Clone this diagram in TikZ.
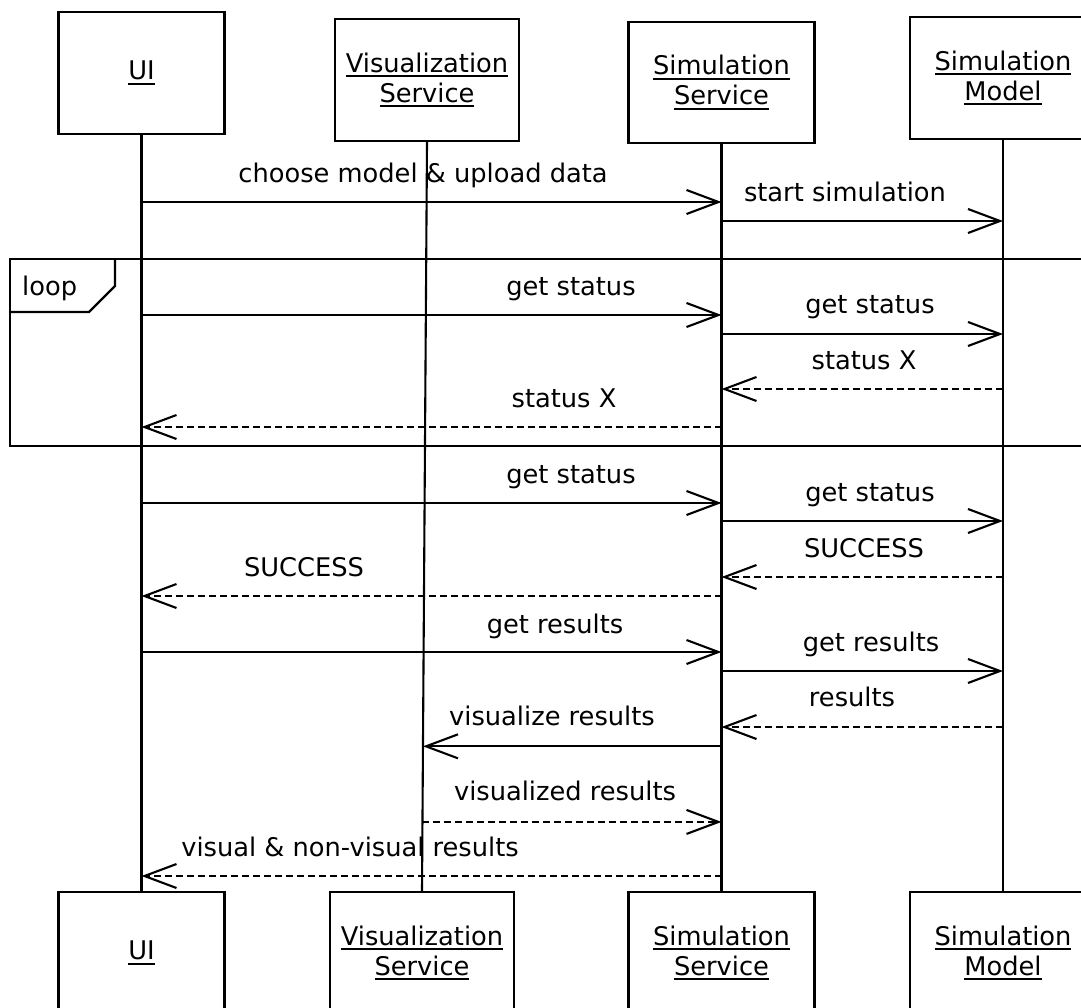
\documentclass[tikz,border=0pt]{standalone}
\usepackage{fontspec}
\setmainfont{DejaVu Sans}
\usetikzlibrary{arrows.meta,calc}

% underline with a fixed, slightly heavier rule
\newcommand{\uln}[1]{{\setbox0\hbox{#1}\rlap{\rule[-5pt]{\wd0}{1.8pt}}\box0}}

\tikzset{
  every node/.style={font=\fontsize{25.7}{30}\selectfont},
  lifebox/.style={draw, line width=2.4pt, minimum width=184pt, minimum height=122pt,
                  align=center, inner sep=0pt, fill=white},
  lifeline/.style={line width=2.1pt},
  callmsg/.style={line width=2.1pt, -{Straight Barb[length=32pt,width=24pt]}},
  replymsg/.style={callmsg, dash pattern=on 7pt off 4pt},
  lbl/.style={anchor=base, inner sep=0pt},
  frame/.style={line width=2.4pt},
}

\begin{document}
\begin{tikzpicture}[x=1pt, y=-1pt]
  \useasboundingbox (0,0) rectangle (1081,1008);
  \clip (0,0) rectangle (1081,1008);

  % participants, top row
  \node[lifebox, minimum width=166pt] (uiT)  at (141.5,73)  {\uln{UI}};
  \node[lifebox] (visT) at (427,80)   {\uln{Visualization}\\\uln{Service}};
  \node[lifebox, minimum width=186pt, minimum height=121pt] (ssT) at (721.5,82.5) {\uln{Simulation}\\\uln{Service}};
  \node[lifebox, minimum width=186pt] (smT)  at (1003,78)   {\uln{Simulation}\\\uln{Model}};

  % participants, bottom row
  \node[lifebox, minimum width=166pt] (uiB)  at (141.5,953) {\uln{UI}};
  \node[lifebox] (visB) at (422,953)  {\uln{Visualization}\\\uln{Service}};
  \node[lifebox, minimum width=186pt] (ssB)  at (721.5,953) {\uln{Simulation}\\\uln{Service}};
  \node[lifebox, minimum width=186pt] (smB)  at (1003,953)  {\uln{Simulation}\\\uln{Model}};

  % lifelines
  \draw[lifeline] (uiT.south)  -- (uiB.north);
  \draw[lifeline] (visT.south) -- (visB.north);
  \draw[lifeline] (ssT.south)  -- (ssB.north);
  \draw[lifeline] (smT.south)  -- (smB.north);

  % setup
  \draw[callmsg] (uiT.south |- 0,202) -- (ssT.south |- 0,202);
  \node[lbl] (m1) at (423,183) {choose model \& upload data};
  \draw[callmsg] (ssT.south |- 0,221) -- (smT.south |- 0,221);
  \node[lbl] (m2) at (845,202) {start simulation};

  % loop combined fragment
  \draw[frame] (10,259) rectangle (1100,446);
  \draw[frame] (115,259) -- (115,286) -- (89,312) -- (10,312);
  \node[anchor=base west, inner sep=0pt] (loopl) at (22,295) {loop};

  \draw[callmsg] (uiT.south |- 0,315) -- (ssT.south |- 0,315);
  \node[lbl] (m3) at (571,295) {get status};
  \draw[callmsg] (ssT.south |- 0,334) -- (smT.south |- 0,334);
  \node[lbl] (m4) at (870,313) {get status};
  \draw[replymsg] (smT.south |- 0,389) -- (ssT.south |- 0,389);
  \node[lbl] (m5) at (864,369) {status X};
  \draw[replymsg] (ssT.south |- 0,427) -- (uiT.south |- 0,427);
  \node[lbl] (m6) at (564,407) {status X};

  % final status poll
  \draw[callmsg] (uiT.south |- 0,503) -- (ssT.south |- 0,503);
  \node[lbl] (m7) at (571,483) {get status};
  \draw[callmsg] (ssT.south |- 0,521) -- (smT.south |- 0,521);
  \node[lbl] (m8) at (870,501) {get status};
  \draw[replymsg] (smT.south |- 0,577) -- (ssT.south |- 0,577);
  \node[lbl] (m9) at (864,557) {SUCCESS};
  \draw[replymsg] (ssT.south |- 0,596) -- (uiT.south |- 0,596);
  \node[lbl] (m10) at (304,576) {SUCCESS};

  % results
  \draw[callmsg] (uiT.south |- 0,652) -- (ssT.south |- 0,652);
  \node[lbl] (m11) at (555,633) {get results};
  \draw[callmsg] (ssT.south |- 0,671) -- (smT.south |- 0,671);
  \node[lbl] (m12) at (871,651) {get results};
  \draw[replymsg] (smT.south |- 0,727) -- (ssT.south |- 0,727);
  \node[lbl] (m13) at (852,706) {results};

  \coordinate (v1) at ($(visT.south)!0.807!(visB.north)$);
  \coordinate (v2) at ($(visT.south)!0.908!(visB.north)$);
  \draw[callmsg] (ssT.south |- v1) -- (v1);
  \node[lbl] (m14) at (552,725) {visualize results};
  \draw[replymsg] (v2) -- (ssT.south |- v2);
  \node[lbl] (m15) at (565,800) {visualized results};
  \draw[replymsg] (ssT.south |- 0,876) -- (uiT.south |- 0,876);
  \node[lbl] (m16) at (350,856) {visual \& non-visual results};
\end{tikzpicture}
\end{document}
